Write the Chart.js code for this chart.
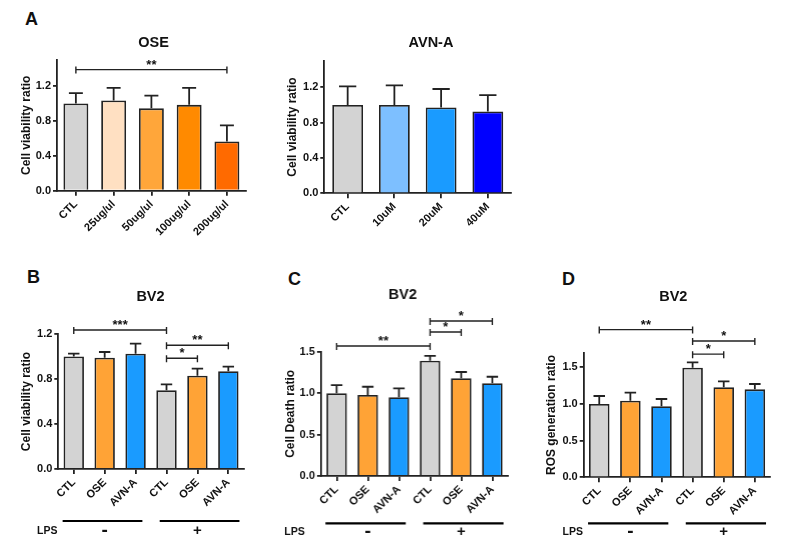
<!DOCTYPE html>
<html>
<head>
<meta charset="utf-8">
<script src="https://cdn.jsdelivr.net/npm/chart.js@4.4.1/dist/chart.umd.min.js"></script>
<style>
  body { margin:0; background:#fff; width:785px; height:548px; position:relative; overflow:hidden;
         font-family: Arial, 'Liberation Sans', sans-serif; }
  .box { position:absolute; }
  .letter { position:absolute; font-weight:bold; font-size:18px; color:#111; line-height:20px; }
</style>
</head>
<body>
<div class="letter" style="left:25px;top:9px">A</div>
<div class="letter" style="left:27px;top:267px">B</div>
<div class="letter" style="left:288px;top:269px">C</div>
<div class="letter" style="left:562px;top:269px">D</div>

<div class="box" id="boxOse"><canvas id="cOse"></canvas></div>
<div class="box" id="boxAvn"><canvas id="cAvn"></canvas></div>
<div class="box" id="boxViab"><canvas id="cViab"></canvas></div>
<div class="box" id="boxDeath"><canvas id="cDeath"></canvas></div>
<div class="box" id="boxRos"><canvas id="cRos"></canvas></div>

<script>
// ---------- Dados ----------
const oseLabels = ['CTL', '25ug/ul', '50ug/ul', '100ug/ul', '200ug/ul'];
const oseMeans  = [1.0, 1.035, 0.945, 0.985, 0.565];
const oseErr    = [0.12, 0.145, 0.145, 0.195, 0.185];
const oseSig    = [[0, 4, 1.39, '**']];

const avnLabels = ['CTL', '10uM', '20uM', '40uM'];
const avnMeans  = [1.0, 1.0, 0.97, 0.925];
const avnErr    = [0.21, 0.22, 0.21, 0.185];
const avnSig    = [];

const bv2Labels = ['CTL', 'OSE', 'AVN-A', 'CTL', 'OSE', 'AVN-A'];

const viabMeans = [1.0, 0.99, 1.025, 0.70, 0.83, 0.87];
const viabErr   = [0.025, 0.05, 0.09, 0.053, 0.062, 0.04];
const viabSig   = [[0, 3, 1.235, '***'], [3, 5, 1.10, '**'], [3, 4, 0.984, '*']];

const deathMeans = [1.0, 0.977, 0.95, 1.39, 1.18, 1.12];
const deathErr   = [0.097, 0.1, 0.108, 0.06, 0.075, 0.078];
const deathSig   = [[0, 3, 1.568, '**'], [3, 5, 1.87, '*'], [3, 4, 1.737, '*']];

const rosMeans = [1.0, 1.045, 0.97, 1.495, 1.228, 1.2];
const rosErr   = [0.109, 0.109, 0.098, 0.074, 0.082, 0.073];
const rosSig   = [[0, 3, 2.015, '**'], [3, 5, 1.86, '*'], [3, 4, 1.68, '*']];

const viabTicks  = [0, 0.4, 0.8, 1.2];
const ratioTicks = [0, 0.5, 1.0, 1.5];

const lpsSigns  = ['-', '+'];
const lpsGroups = [[0, 2], [3, 5]];

// ---------- Cores ----------
const GRAY = '#d3d3d3';
const oseColors = [GRAY, '#ffe0c2', '#ffa63a', '#ff8a00', '#ff6a00'];
const avnColors = [GRAY, '#7dbfff', '#1a9bff', '#0000ff'];
const bv2Colors = [GRAY, '#ffa336', '#1a9bff', GRAY, '#ffa336', '#1a9bff'];

const FONT = "Arial, 'Liberation Sans', sans-serif";
const INK = '#222';

// ---------- Painéis (posição na página) ----------
const panels = [
  { canvas: 'cOse', box: 'boxOse', left: 14.5, top: 0, width: 238.8, height: 250,
    padTop: 60, yW: 42, xH: 59.3, max: 1.5,
    labels: oseLabels, means: oseMeans, err: oseErr, sig: oseSig, colors: oseColors, ticks: viabTicks,
    yTitle: 'Cell viability ratio', title: 'OSE', titleX: 153, titleY: 43, lps: null },
  { canvas: 'cAvn', box: 'boxAvn', left: 281, top: 0, width: 238.2, height: 250,
    padTop: 60.7, yW: 43.3, xH: 56.7, max: 1.5,
    labels: avnLabels, means: avnMeans, err: avnErr, sig: avnSig, colors: avnColors, ticks: viabTicks,
    yTitle: 'Cell viability ratio', title: 'AVN-A', titleX: 431, titleY: 43, lps: null },
  { canvas: 'cViab', box: 'boxViab', left: 14.5, top: 250, width: 236.8, height: 298,
    padTop: 84, yW: 43.3, xH: 79, max: 1.2,
    labels: bv2Labels, means: viabMeans, err: viabErr, sig: viabSig, colors: bv2Colors, ticks: viabTicks,
    yTitle: 'Cell viability ratio', title: 'BV2', titleX: 150, titleY: 296.7,
    lps: { lineY: 521, textY: 530.7, textRight: 57 } },
  { canvas: 'cDeath', box: 'boxDeath', left: 279.3, top: 250, width: 235.9, height: 298,
    padTop: 101.7, yW: 41.9, xH: 72, max: 1.5,
    labels: bv2Labels, means: deathMeans, err: deathErr, sig: deathSig, colors: bv2Colors, ticks: ratioTicks,
    yTitle: 'Cell Death ratio', title: 'BV2', titleX: 402.5, titleY: 295,
    lps: { lineY: 523.3, textY: 531.7, textRight: 305 } },
  { canvas: 'cRos', box: 'boxRos', left: 540, top: 250, width: 238.4, height: 298,
    padTop: 102.7, yW: 43.7, xH: 70.7, max: 1.7,
    labels: bv2Labels, means: rosMeans, err: rosErr, sig: rosSig, colors: bv2Colors, ticks: ratioTicks,
    yTitle: 'ROS generation ratio', title: 'BV2', titleX: 673.3, titleY: 296.7,
    lps: { lineY: 523.3, textY: 531.7, textRight: 583 } }
];

// ---------- Plugin: barras de erro, significância, título, LPS ----------
function extrasPlugin(p) {
  return {
    id: 'extras',
    afterDatasetsDraw(chart) {
      const ctx = chart.ctx;
      const xs = chart.scales.x, ys = chart.scales.y;
      const bars = chart.getDatasetMeta(0).data;
      ctx.save();
      ctx.strokeStyle = INK;
      ctx.fillStyle = '#111';

      // barras de erro (só para cima)
      ctx.lineWidth = 1.8;
      p.means.forEach((m, i) => {
        const bx = bars[i].x, half = bars[i].width * 0.28;
        const y0 = ys.getPixelForValue(m), y1 = ys.getPixelForValue(m + p.err[i]);
        ctx.beginPath();
        ctx.moveTo(bx, y0); ctx.lineTo(bx, y1);
        ctx.moveTo(bx - half, y1); ctx.lineTo(bx + half, y1);
        ctx.stroke();
      });

      // colchetes de significância
      ctx.lineWidth = 1.4;
      ctx.font = 'bold 13px ' + FONT;
      ctx.textAlign = 'center';
      ctx.textBaseline = 'bottom';
      p.sig.forEach(([a, b, v, s]) => {
        const xa = xs.getPixelForValue(a), xb = xs.getPixelForValue(b), yy = ys.getPixelForValue(v);
        ctx.beginPath();
        ctx.moveTo(xa, yy); ctx.lineTo(xb, yy);
        ctx.moveTo(xa, yy - 3); ctx.lineTo(xa, yy + 4);
        ctx.moveTo(xb, yy - 3); ctx.lineTo(xb, yy + 4);
        ctx.stroke();
        ctx.fillText(s, (xa + xb) / 2, yy + 2);
      });

      // título do painel
      ctx.font = 'bold 14.5px ' + FONT;
      ctx.textBaseline = 'middle';
      ctx.fillText(p.title, p.titleX - p.left, p.titleY - p.top);

      // linha LPS
      if (p.lps) {
        const w = xs.getPixelForValue(1) - xs.getPixelForValue(0);
        const ly = p.lps.lineY - p.top, ty = p.lps.textY - p.top;
        ctx.lineWidth = 2.2;
        ctx.strokeStyle = '#000';
        lpsGroups.forEach(([a, b], g) => {
          const ext = g === 0 ? [0.36, 0.22] : [0.22, 0.36];
          ctx.beginPath();
          ctx.moveTo(xs.getPixelForValue(a) - ext[0] * w, ly);
          ctx.lineTo(xs.getPixelForValue(b) + ext[1] * w, ly);
          ctx.stroke();
          ctx.font = g === 0 ? 'bold 19px ' + FONT : 'bold 15px ' + FONT;
          ctx.textAlign = 'center';
          ctx.fillText(lpsSigns[g], xs.getPixelForValue(a + 1), ty);
        });
        ctx.font = 'bold 10.5px ' + FONT;
        ctx.textAlign = 'right';
        ctx.fillText('LPS', p.lps.textRight - p.left, ty);
      }
      ctx.restore();
    }
  };
}

// ---------- Gráficos ----------
panels.forEach(p => {
  const box = document.getElementById(p.box);
  Object.assign(box.style, { left: p.left + 'px', top: p.top + 'px', width: p.width + 'px', height: p.height + 'px' });

  new Chart(document.getElementById(p.canvas), {
    type: 'bar',
    data: {
      labels: p.labels,
      datasets: [{
        data: p.means,
        backgroundColor: p.colors,
        borderColor: INK,
        borderWidth: 1.8,
        barPercentage: 0.66,
        categoryPercentage: 1
      }]
    },
    options: {
      responsive: true,
      maintainAspectRatio: false,
      animation: false,
      layout: { padding: { top: p.padTop, right: 8, bottom: 0, left: 0 } },
      plugins: { legend: { display: false }, tooltip: { enabled: false } },
      scales: {
        x: {
          grid: { drawOnChartArea: false, drawTicks: true, tickLength: 5, offset: false, color: INK, lineWidth: 1.8 },
          border: { color: INK, width: 1.8 },
          ticks: { autoSkip: false, minRotation: 45, maxRotation: 45, padding: 2, color: '#111',
                   font: { family: FONT, size: 11, weight: 'bold' } },
          afterFit: s => { s.height = p.xH; }
        },
        y: {
          min: 0,
          max: p.max,
          afterBuildTicks: s => { s.ticks = p.ticks.map(v => ({ value: v })); },
          grid: { drawOnChartArea: false, drawTicks: true, tickLength: 4, color: INK, lineWidth: 1.8 },
          border: { color: INK, width: 1.8 },
          ticks: { padding: 2, color: '#111', font: { family: FONT, size: 11, weight: 'bold' },
                   callback: v => Number(v).toFixed(1) },
          title: { display: true, text: p.yTitle, color: '#111', padding: { top: 4, bottom: 0 },
                   font: { family: FONT, size: 12, weight: 'bold' } },
          afterFit: s => { s.width = p.yW; }
        }
      }
    },
    plugins: [extrasPlugin(p)]
  });
});
</script>
</body>
</html>
